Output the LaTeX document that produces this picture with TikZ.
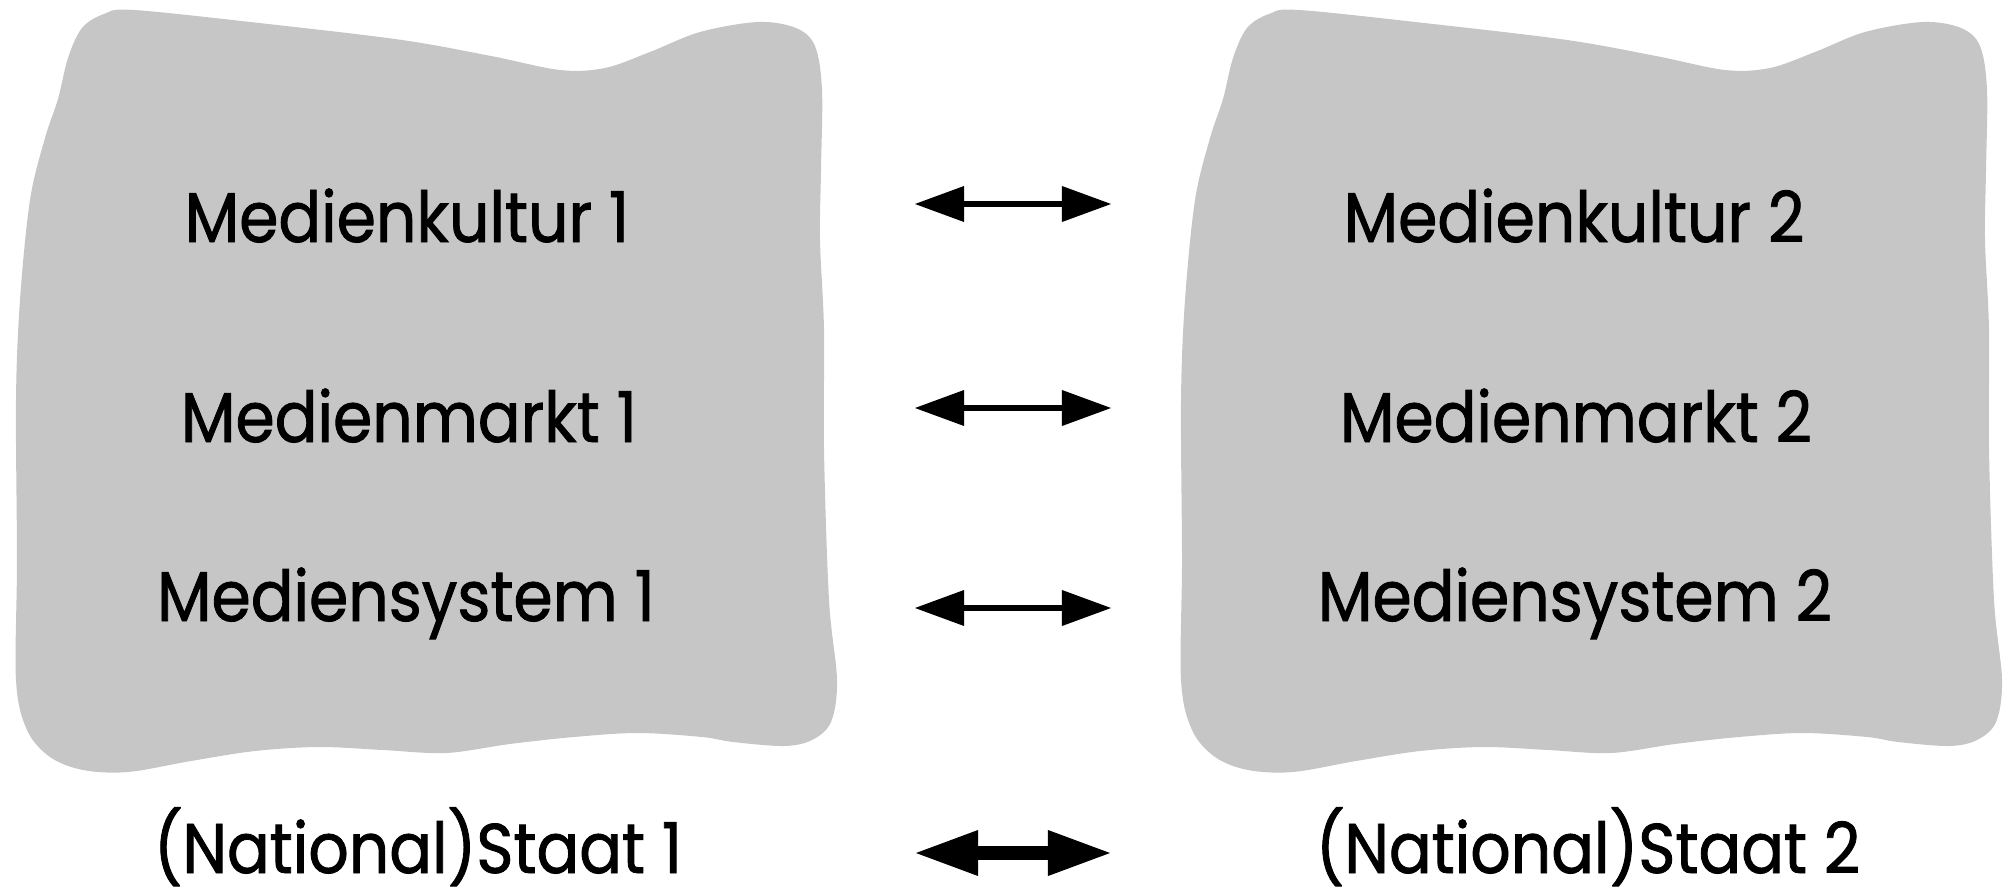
\documentclass[tikz,border=0pt]{standalone}
\usepackage{fontspec}
\setmainfont{Poppins}[FakeStretch=0.9, FakeBold=1.2]
\usetikzlibrary{arrows.meta}
\definecolor{blobgray}{RGB}{198,198,198}
\tikzset{
  blob/.pic={
    \fill[blobgray] plot[smooth cycle, tension=0.55] coordinates {
      (134,10) (268,24) (402,40) (491,56) (560,70) (605,68) (650,52) (700,32)
      (758,22) (796,28) (815,46) (822,90) (821,170) (820,240) (824,330)
      (824,450) (829,600) (837,680) (831,722) (812,740) (784,746) (733,742)
      (702,737) (638,733) (574,737) (510,744) (446,753) (383,750) (319,747)
      (255,751) (191,761) (128,772) (83,770) (50,757) (27,730) (16,680)
      (17,560) (16,400) (20,300) (30,200) (45,138) (58,99) (68,58) (82,28)
      (104,14)
    };
  }
}

\begin{document}
\begin{tikzpicture}
[
x=0.02cm, y=-0.02cm,
term/.style={anchor=base, inner sep=0pt, font=\fontsize{40}{48}\selectfont},
link/.style={line width=3.9pt, >={Triangle[length=27.9pt,width=20.5pt,line width=0pt]}, <->},
biglink/.style={line width=8.5pt, >={Triangle[length=35.3pt,width=26.2pt,line width=0pt]}, <->}
]
\useasboundingbox (0,0) rectangle (2013,895);

%Blobs
\pic at (0,0) {blob};
\pic at (1165,0) {blob};

%Nodes
\node[term] (kultur1) at (407,242) {Medienkultur 1};
\node[term] (markt1)  at (409,442) {Medienmarkt 1};
\node[term] (system1) at (406,621) {Mediensystem 1};
\node[term] (staat1)  at (418,873) {(National)Staat 1};

\node[term] (kultur2) at (1574,242) {Medienkultur 2};
\node[term] (markt2)  at (1576,442) {Medienmarkt 2};
\node[term] (system2) at (1575,621) {Mediensystem 2};
\node[term] (staat2)  at (1588,873) {(National)Staat 2};

\coordinate (kultur-l) at (915,204);
\coordinate (kultur-r) at (1111,204);
\coordinate (markt-l)  at (915,408);
\coordinate (markt-r)  at (1111,408);
\coordinate (system-l) at (915,608);
\coordinate (system-r) at (1111,608);
\coordinate (staat-l)  at (916,853);
\coordinate (staat-r)  at (1110,853);

%Lines
\draw[link] (kultur-l) -- (kultur-r);
\draw[link] (markt-l) -- (markt-r);
\draw[link] (system-l) -- (system-r);
\draw[biglink] (staat-l) -- (staat-r);

\end{tikzpicture}
\end{document}
